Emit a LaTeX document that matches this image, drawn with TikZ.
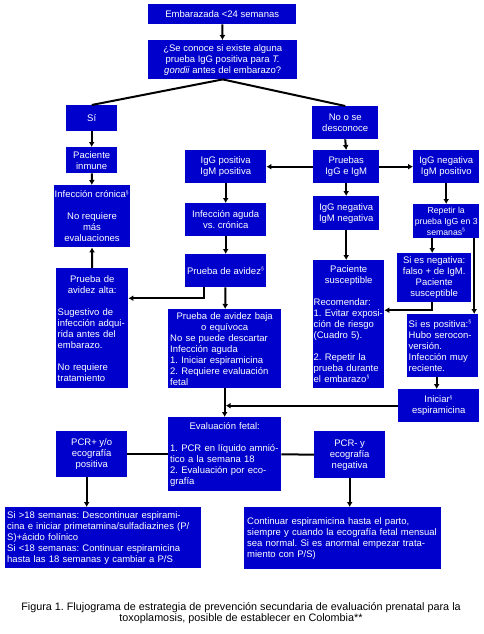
\documentclass[tikz,border=0pt]{standalone}
\usepackage{fontspec}
\setmainfont{Liberation Sans}
\usetikzlibrary{arrows.meta}
\definecolor{boxblue}{RGB}{0,0,204}
\newcommand{\fnmark}{\textsuperscript{\fontsize{5}{5}\selectfont §}}
\newcommand{\midline}[1]{\makebox[\linewidth][c]{#1}}

\begin{document}
\frenchspacing
\begin{tikzpicture}[x=1pt, y=-1pt,
        bluebox/.style={rectangle, fill=boxblue, text=white, inner xsep=0.5pt, inner ysep=0pt,
          anchor=north west, align=center, font=\fontsize{9.5}{11}\selectfont},
        leftbox/.style={bluebox, align=left},
        line/.style={line width=2pt},
        arrow/.style={line width=2pt, -{Latex[length=5pt,width=6pt]}},
        ]
        \useasboundingbox (0,0) rectangle (484,634);

        % Start
        \node[bluebox, minimum width=148, minimum height=20] (emb) at (148,4) {Embarazada <24 semanas};
        \node[bluebox, minimum width=149, minimum height=39] (preg) at (148,40)
          {¿Se conoce si existe alguna\\ prueba IgG positiva para \textit{T.}\\ \textit{gondii} antes del embarazo?};
        \node[bluebox, minimum width=51, minimum height=26] (si) at (66,105) {Sí};
        \node[bluebox, minimum width=66, minimum height=33] (nose) at (312,106) {No o se\\ desconoce};

        % Left branch
        \node[bluebox, minimum width=51, minimum height=26] (inmune) at (66,147) {Paciente\\ inmune};
        \node[bluebox, minimum width=72, minimum height=62] (cronica) at (54,185)
          {Infección crónica\fnmark\\[11pt] No requiere\\ más\\ evaluaciones};
        \node[leftbox, minimum width=72, minimum height=120, text width=69] (altaav) at (56,268)
          {\midline{Prueba de}\\ \midline{avidez alta:}\\[11pt] Sugestivo de\\ infección adqui-\\ rida antes del\\ embarazo.\\[11pt] No requiere\\ tratamiento};

        % Middle branch
        \node[bluebox, minimum width=81, minimum height=33] (igpos) at (185,150) {IgG positiva\\ IgM positiva};
        \node[bluebox, minimum width=81, minimum height=33] (aguda) at (185,203) {Infección aguda\\ vs. crónica};
        \node[bluebox, minimum width=81, minimum height=33] (avidez) at (185,254) {Prueba de avidez\fnmark};
        \node[leftbox, minimum width=113, minimum height=79, text width=109] (baja) at (168,309)
          {\midline{Prueba de avidez baja}\\ \midline{o equívoca}\\ No se puede descartar\\ Infección aguda\\ 1. Iniciar espiramicina\\ 2. Requiere evaluación\\ fetal};

        % Tests
        \node[bluebox, minimum width=66, minimum height=33] (pruebas) at (313,150) {Pruebas\\ IgG e IgM};
        \node[bluebox, minimum width=66, minimum height=34] (negneg) at (313,196) {IgG negativa\\ IgM negativa};
        \node[leftbox, minimum width=71, minimum height=128, text width=70] (suscept) at (313,260)
          {\midline{Paciente}\\ \midline{susceptible}\\[11pt] Recomendar:\\ \mbox{1. Evitar exposi-}\\ ción de riesgo\\ (Cuadro 5).\\[11pt] 2. Repetir la\\ prueba durante\\ el embarazo\fnmark};

        % Right branch
        \node[bluebox, minimum width=66, minimum height=33] (ignegpos) at (413,150) {IgG negativa\\ IgM positivo};
        \node[bluebox, minimum width=66, minimum height=34, font=\fontsize{8.7}{11}\selectfont] (repetir) at (413,204)
          {Repetir la\\ prueba IgG en 3\\ semanas\fnmark};
        \node[bluebox, minimum width=74, minimum height=49] (sineg) at (397,253)
          {Si es negativa:\\ falso + de IgM.\\ Paciente\\ susceptible};
        \node[leftbox, minimum width=71, minimum height=63, text width=68] (sipos) at (407,314)
          {Si es positiva:\fnmark\\ Hubo serocon-\\ versión.\\ Infección muy\\ reciente.};
        \node[bluebox, minimum width=81, minimum height=33] (iniciar) at (398,389) {Iniciar\fnmark\\ espiramicina};

        % Fetal evaluation
        \node[leftbox, minimum width=113, minimum height=74, text width=109] (evalf) at (168,417)
          {\midline{Evaluación fetal:}\\[11pt] 1. PCR en líquido amnió-\\ tico a la semana 18\\ 2. Evaluación por eco-\\ grafía};
        \node[bluebox, minimum width=71, minimum height=46] (pcrpos) at (56,431) {PCR+ y/o\\ ecografía\\ positiva};
        \node[bluebox, minimum width=71, minimum height=47] (pcrneg) at (314,431) {PCR- y\\ ecografía\\ negativa};
        \node[leftbox, minimum width=196, minimum height=61, text width=192] (bl) at (5,507)
          {Si >18 semanas: Descontinuar espirami-\\ cina e iniciar primetamina/sulfadiazines (P/\\ S)+ácido folínico\\ Si <18 semanas: Continuar espiramicina\\ hasta las 18 semanas y cambiar a P/S};
        \node[leftbox, minimum width=197, minimum height=62, text width=191] (br) at (244,507)
          {Continuar espiramicina hasta el parto,\\ siempre y cuando la ecografía fetal mensual\\ sea normal. Si es anormal empezar trata-\\ miento con P/S)};

        % Caption
        \node[align=center, font=\fontsize{10.8}{11.5}\selectfont] (caption) at (241,613)
          {Figura 1. Flujograma de estrategia de prevención secundaria de evaluación prenatal para la\\ toxoplamosis, posible de establecer en Colombia**};

        % Connectors
        \draw[arrow] (emb) -- (preg);
        \draw[line] (preg.south) -- (si.north);
        \draw[line] (preg.south) -- (nose.north);
        \draw[arrow] (si) -- (inmune);
        \draw[arrow] (nose.south) -- (pruebas.north);
        \draw[arrow] (inmune) -- (cronica);
        \draw[arrow] (altaav) -- (cronica);
        \draw[arrow] (pruebas) -- (igpos);
        \draw[arrow] (pruebas) -- (ignegpos);
        \draw[arrow] (pruebas) -- (negneg);
        \draw[arrow] (negneg.south) -- (negneg.south |- suscept.north);
        \draw[arrow] (igpos) -- (aguda);
        \draw[arrow] (aguda) -- (avidez);
        \draw[arrow] (avidez) -- (baja);
        \draw[arrow] ([xshift=-22pt]avidez.south) |- ([yshift=30pt]altaav.east);
        \draw[arrow] (ignegpos) -- (repetir);
        \draw[arrow] ([xshift=-14pt]repetir.south) -- ([xshift=-14pt]repetir.south |- sineg.north);
        \draw[arrow] ([xshift=28pt]repetir.south) -- ([xshift=28pt]repetir.south |- sipos.north);
        \draw[arrow] ([xshift=-2pt]sineg.south) |- ([yshift=14pt]suscept.east);
        \draw[arrow] ([xshift=-6pt]sipos.south) -- ([xshift=-6pt]sipos.south |- iniciar.north);
        \draw[arrow, shorten >=1pt] (iniciar.west) -- (iniciar.west -| baja.south);
        \draw[arrow] (baja) -- (evalf);
        \draw[line] (evalf) -- (pcrpos);
        \draw[line] (evalf) -- (pcrneg);
        \draw[arrow] ([xshift=-5pt]pcrpos.south) -- ([xshift=-5pt]pcrpos.south |- bl.north);
        \draw[arrow] (pcrneg.south) -- (pcrneg.south |- br.north);

    \end{tikzpicture}
\end{document}
